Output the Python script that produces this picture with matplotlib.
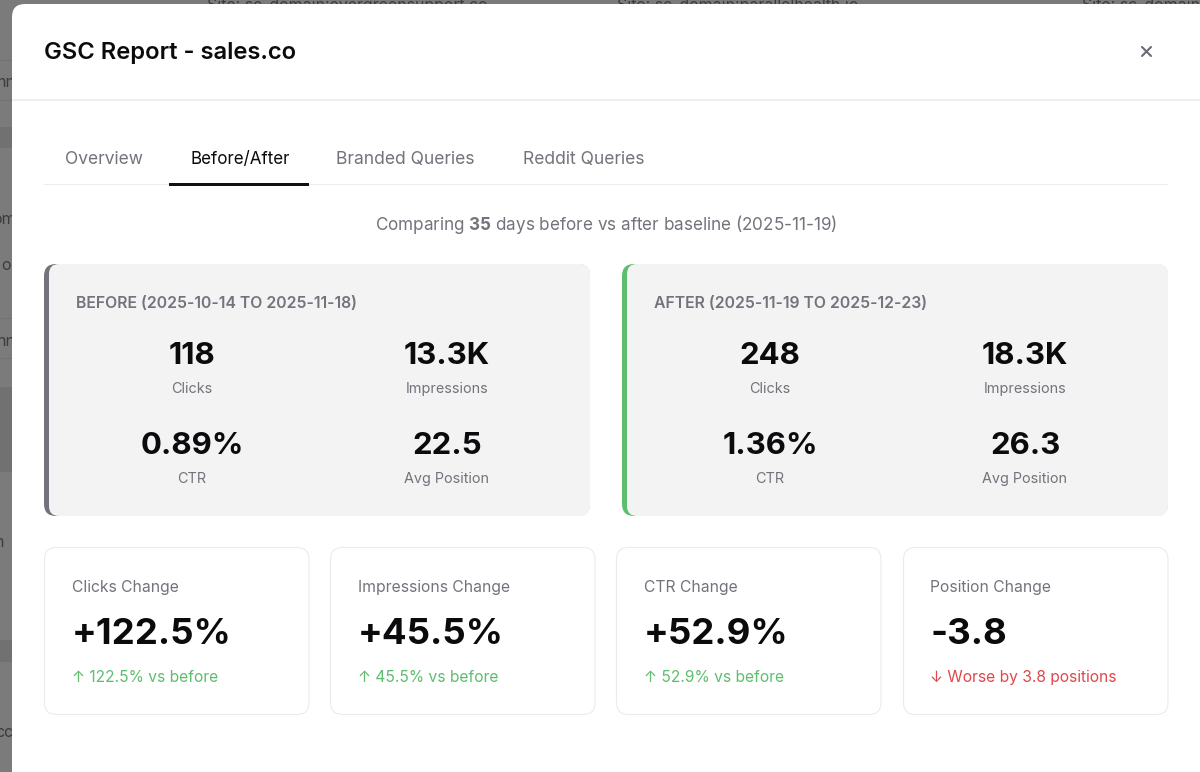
import matplotlib
matplotlib.use("Agg")
import matplotlib.pyplot as plt
from matplotlib.patches import FancyBboxPatch, Rectangle

plt.rcParams['font.family'] = ['Inter', 'DejaVu Sans']
plt.rcParams['mathtext.fontset'] = 'custom'
plt.rcParams['mathtext.bf'] = 'Inter:bold'
plt.rcParams['mathtext.rm'] = 'Inter'

title = "GSC Report - sales.co"
tabs = ["Overview", "Before/After", "Branded Queries", "Reddit Queries"]
period_titles = ["BEFORE (2025-10-14 TO 2025-11-18)", "AFTER (2025-11-19 TO 2025-12-23)"]
metric_labels = ["Clicks", "Impressions", "CTR", "Avg Position"]
before_values = ["118", "13.3K", "0.89%", "22.5"]
after_values = ["248", "18.3K", "1.36%", "26.3"]
change_labels = ["Clicks Change", "Impressions Change", "CTR Change", "Position Change"]
change_values = ["+122.5%", "+45.5%", "+52.9%", "-3.8"]
change_notes = ["↑ 122.5% vs before", "↑ 45.5% vs before", "↑ 52.9% vs before", "↓ Worse by 3.8 positions"]

INK = "#0b0b0d"; GREY = "#73737c"; GREEN = "#5dbe6e"; RED = "#e0484a"
PT = 72 / 100

fig = plt.figure(figsize=(12, 7.72), dpi=100, facecolor="#7b7b7b")
ax = fig.add_axes([0, 0, 1, 1])
ax.set_xlim(0, 1200); ax.set_ylim(772, 0); ax.axis("off")

def T(x, y, s, px, color=INK, weight="normal", ha="left", z=5):
    return ax.text(x, y, s, fontsize=px * PT, color=color, fontweight=weight,
                   ha=ha, va="center_baseline", zorder=z)

def box(x, y, w, h, r, fc, ec="none", lw=0, z=2):
    p = FancyBboxPatch((x + r, y + r), w - 2 * r, h - 2 * r,
                       boxstyle=f"round,pad={r},rounding_size={r}",
                       fc=fc, ec=ec, lw=lw, zorder=z, mutation_aspect=1)
    ax.add_patch(p)

# dimmed page behind the dialog
for x, s in [(207, "Site: sc-domain:evergreensupport.co"),
             (617, "Site: sc-domain:parallelhealth.io"),
             (1082, "Site: sc-domain:")]:
    T(x, 4, s, 15.9, color="#3c3c3c", z=1)
for x, y, s in [(16, 81, "nn"), (16, 218, "om"), (11, 264, "o"), (16, 340, "nn"), (4, 541, "n"), (13, 731, "cc")]:
    T(x, y, s, 16, color="#3c3c3c", ha="right", z=1)
for y0, y1 in [(127, 148), (387, 472), (640, 662)]:
    ax.add_patch(Rectangle((0, y0), 12, y1 - y0, fc="#717171", ec="none", zorder=0.5))
for y0 in [60, 100, 318, 358]:
    ax.add_patch(Rectangle((0, y0), 12, 1, fc="#727272", ec="none", zorder=0.5))

# dialog
box(12, 4, 1200, 800, 13, "white", z=1.5)
ax.add_patch(Rectangle((12, 99.2), 1188, 1.6, fc="#efeff0", ec="none", zorder=2))
T(44, 51, title, 23.8, weight="semibold")
ax.plot([1142, 1151], [47, 56], color="#6b6b72", lw=1.5, zorder=5, solid_capstyle="round")
ax.plot([1142, 1151], [56, 47], color="#6b6b72", lw=1.5, zorder=5, solid_capstyle="round")

# tabs
ax.add_patch(Rectangle((44, 184), 1124, 1.2, fc="#ececee", ec="none", zorder=2))
ax.add_patch(Rectangle((169, 183.3), 140, 2.7, fc="#111113", ec="none", zorder=3))
for x, s, active, size in zip([65, 190, 336, 523], tabs, [0, 1, 0, 0], [17.4, 17.0, 17.5, 17.5]):
    T(x, 157.5, s, size, color=INK if active else GREY)

# subtitle
ax.text(606, 222, r"Comparing $\bf{35}$ days before vs after baseline (2025-11-19)",
        fontsize=17.1 * PT, color=GREY, ha="center", va="center_baseline", zorder=5)

# period panels
panel_x = [44, 622]
accents = [GREY, GREEN]
for px_, ptitle, vals, acc in zip(panel_x, period_titles, [before_values, after_values], accents):
    box(px_, 264, 546, 252, 12, acc, z=2)
    box(px_ + 5, 264, 541, 252, 10, "#f3f3f4", z=2.5)
    T(px_ + 32, 302, ptitle, 15.8, color=GREY, weight="semibold")
    cols = [px_ + 148, px_ + 403]
    rows = [(353, 387.5), (443, 477.5)]
    for i, (v, lab) in enumerate(zip(vals, metric_labels)):
        cx = cols[i % 2]; ry, ly = rows[i // 2]
        T(cx, ry, v, 31.2, weight="bold", ha="center")
        T(cx, ly, lab, 14.4, color=GREY, ha="center")

# change cards
card_x = [44, 330, 616, 903]
for x, lab, val, note in zip(card_x, change_labels, change_values, change_notes):
    box(x + .5, 547.5, 264.5, 167, 12, "white", ec="#ebebee", lw=0.8, z=2)
    T(x + 27.5, 586, lab, 15.7, color=GREY)
    T(x + 27.5, 631, val, 36.7, weight="bold")
    T(x + 27.5, 676, note, 15.6, color=RED if note.startswith("↓") else GREEN)

fig.savefig("out.png", dpi=100, facecolor=fig.get_facecolor())
